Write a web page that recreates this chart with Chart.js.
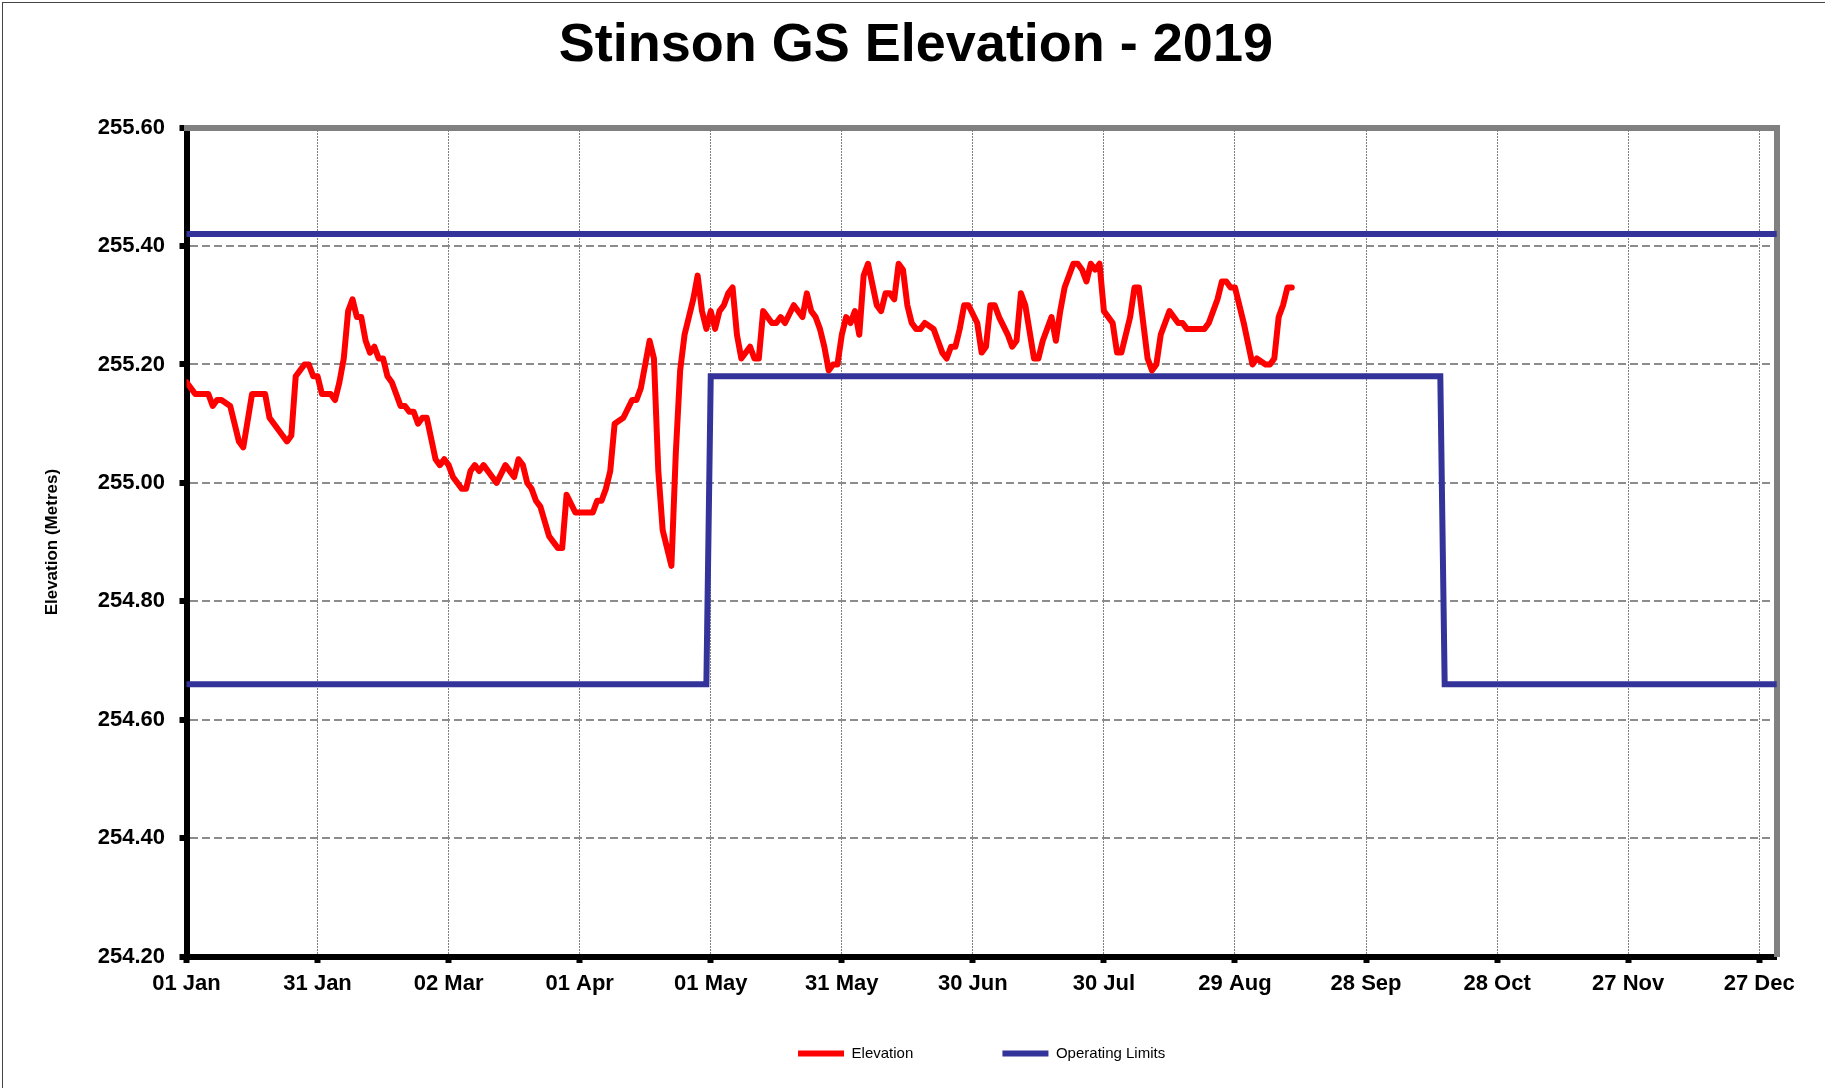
<!DOCTYPE html>
<html>
<head>
<meta charset="utf-8">
<title>Stinson GS Elevation - 2019</title>
<script src="https://cdn.jsdelivr.net/npm/chart.js@4.4.1/dist/chart.umd.min.js"></script>
<style>
  body { margin: 0; background: #fff; }
  #wrap { position: relative; width: 1825px; height: 1088px; overflow: hidden; }
  /* thin frame round the picture, like the exported image */
  #frame { position: absolute; left: 2px; top: 2px; width: 1840px; height: 1100px;
           border: 1px solid #444; pointer-events: none; }
</style>
</head>
<body>
<div id="wrap">
  <canvas id="chart" width="1825" height="1088"></canvas>
  <div id="frame"></div>
</div>
<script>
// Day of year (0 = 01 Jan 2019) and elevation in metres
const elevationDays = [
  0, 2, 5, 6, 7, 8, 10, 12, 13, 15, 18, 19, 23, 24, 25, 27, 28, 29, 30, 31,
  33, 34, 35, 36, 37, 38, 39, 40, 41, 42, 43, 44, 45, 46, 47, 49, 50, 51, 52, 53,
  54, 55, 57, 58, 59, 60, 61, 63, 64, 65, 66, 67, 68, 71, 73, 75, 76, 77, 78, 79,
  80, 81, 83, 84, 85, 86, 87, 89, 93, 94, 95, 96, 97, 98, 100, 102, 103, 104, 105, 106,
  107, 108, 109, 110, 111, 112, 113, 114, 115, 116, 117, 118, 119, 120, 121, 122, 123, 124, 125, 126,
  127, 129, 130, 131, 132, 134, 135, 136, 137, 139, 141, 142, 143, 144, 145, 146, 147, 148, 149, 150,
  151, 152, 153, 154, 155, 156, 158, 159, 160, 161, 162, 163, 164, 165, 166, 167, 168, 169, 171, 172,
  173, 174, 175, 176, 177, 178, 179, 181, 182, 183, 184, 185, 186, 188, 189, 190, 191, 192, 194, 195,
  196, 198, 199, 200, 201, 203, 204, 205, 206, 207, 208, 209, 210, 212, 213, 214, 216, 217, 218, 220,
  221, 222, 223, 225, 227, 228, 229, 233, 234, 236, 237, 238, 239, 240, 242, 244, 245, 247, 248, 249,
  250, 251, 252, 253
];
const elevationValues = [
  255.17, 255.15, 255.15, 255.13, 255.14, 255.14, 255.13, 255.07, 255.06, 255.15, 255.15, 255.11, 255.07, 255.08, 255.18, 255.20, 255.20, 255.18, 255.18, 255.15,
  255.15, 255.14, 255.17, 255.21, 255.29, 255.31, 255.28, 255.28, 255.24, 255.22, 255.23, 255.21, 255.21, 255.18, 255.17, 255.13, 255.13, 255.12, 255.12, 255.10,
  255.11, 255.11, 255.04, 255.03, 255.04, 255.03, 255.01, 254.99, 254.99, 255.02, 255.03, 255.02, 255.03, 255.00, 255.03, 255.01, 255.04, 255.03, 255.00, 254.99,
  254.97, 254.96, 254.91, 254.90, 254.89, 254.89, 254.98, 254.95, 254.95, 254.97, 254.97, 254.99, 255.02, 255.10, 255.11, 255.14, 255.14, 255.16, 255.20, 255.24,
  255.21, 255.02, 254.92, 254.89, 254.86, 255.05, 255.19, 255.25, 255.28, 255.31, 255.35, 255.29, 255.26, 255.29, 255.26, 255.29, 255.30, 255.32, 255.33, 255.25,
  255.21, 255.23, 255.21, 255.21, 255.29, 255.27, 255.27, 255.28, 255.27, 255.30, 255.28, 255.32, 255.29, 255.28, 255.26, 255.23, 255.19, 255.20, 255.20, 255.25,
  255.28, 255.27, 255.29, 255.25, 255.35, 255.37, 255.30, 255.29, 255.32, 255.32, 255.31, 255.37, 255.36, 255.30, 255.27, 255.26, 255.26, 255.27, 255.26, 255.24,
  255.22, 255.21, 255.23, 255.23, 255.26, 255.30, 255.30, 255.27, 255.22, 255.23, 255.30, 255.30, 255.28, 255.25, 255.23, 255.24, 255.32, 255.30, 255.21, 255.21,
  255.24, 255.28, 255.24, 255.29, 255.33, 255.37, 255.37, 255.36, 255.34, 255.37, 255.36, 255.37, 255.29, 255.27, 255.22, 255.22, 255.28, 255.33, 255.33, 255.21,
  255.19, 255.20, 255.25, 255.29, 255.27, 255.27, 255.26, 255.26, 255.27, 255.31, 255.34, 255.34, 255.33, 255.33, 255.27, 255.20, 255.21, 255.20, 255.20, 255.21,
  255.28, 255.30, 255.33, 255.33
];

// Operating limits: upper limit all year, lower limit raised from 01 May to 15 Oct
const upperLimitDays = [0, 364];
const upperLimitValues = [255.42, 255.42];
const lowerLimitDays = [0, 119, 120, 287, 288, 364];
const lowerLimitValues = [254.66, 254.66, 255.18, 255.18, 254.66, 254.66];

// Axis ticks
const xTickDays = [0, 30, 60, 90, 120, 150, 180, 210, 240, 270, 300, 330, 360];
const xTickLabels = ['01 Jan', '31 Jan', '02 Mar', '01 Apr', '01 May', '31 May', '30 Jun',
                     '30 Jul', '29 Aug', '28 Sep', '28 Oct', '27 Nov', '27 Dec'];
const yTickValues = [254.2, 254.4, 254.6, 254.8, 255.0, 255.2, 255.4, 255.6];

const toPoints = (xs, ys) => xs.map((x, i) => ({ x: x, y: ys[i] }));

Chart.defaults.font.family = "'Liberation Sans', Arial, sans-serif";
Chart.defaults.color = '#000';

const ctx = document.getElementById('chart').getContext('2d');
const chart = new Chart(ctx, {
  type: 'line',
  data: {
    datasets: [
      {
        label: 'Elevation',
        data: toPoints(elevationDays, elevationValues),
        borderColor: '#ff0000',
        backgroundColor: '#ff0000',
        borderWidth: 6,
        borderCapStyle: 'round',
        borderJoinStyle: 'round',
        pointRadius: 0,
        tension: 0
      },
      {
        label: 'Operating Limits',
        data: toPoints(upperLimitDays, upperLimitValues),
        borderColor: '#333399',
        backgroundColor: '#333399',
        borderWidth: 6,
        borderCapStyle: 'round',
        pointRadius: 0,
        tension: 0
      },
      {
        label: 'Operating Limits',
        data: toPoints(lowerLimitDays, lowerLimitValues),
        borderColor: '#333399',
        backgroundColor: '#333399',
        borderWidth: 6,
        borderCapStyle: 'round',
        pointRadius: 0,
        tension: 0
      }
    ]
  },
  options: {
    responsive: false,
    animation: false,
    events: [],
    layout: { padding: { left: 55, right: 48.3, top: 0, bottom: 17 } },
    plugins: {
      title: {
        display: true,
        text: 'Stinson GS Elevation - 2019',
        color: '#000',
        font: { size: 54, weight: 'bold' },
        padding: { top: 13.5, bottom: 49.2 }
      },
      legend: {
        position: 'bottom',
        fullSize: false,
        labels: {
          usePointStyle: true,
          pointStyle: 'line',
          pointStyleWidth: 46,
          padding: 89.2,
          color: '#000',
          font: { size: 15 },
          // the two limit lines share one legend entry
          filter: item => item.datasetIndex < 2
        }
      },
      tooltip: { enabled: false }
    },
    scales: {
      x: {
        type: 'linear',
        // pinned to the bottom of the value axis so the legend can sit right under the plot
        position: { y: 254.2 },
        min: 0,
        max: 364,
        afterBuildTicks: s => { s.ticks = xTickDays.map(v => ({ value: v })); },
        ticks: {
          autoSkip: false,
          maxRotation: 0,
          padding: 10.5,
          font: { size: 22, weight: 'bold' },
          callback: (v, i) => xTickLabels[i]
        },
        grid: { color: '#000', lineWidth: 1, tickColor: '#000', tickWidth: 6, tickLength: 3 },
        border: { color: '#000', width: 6, dash: [1, 2] }
      },
      y: {
        type: 'linear',
        position: 'left',
        min: 254.2,
        max: 255.6,
        afterBuildTicks: s => { s.ticks = yTickValues.map(v => ({ value: v })); },
        afterFit: s => { s.width = 131.5; },
        ticks: {
          padding: 14.5,
          font: { size: 22, weight: 'bold' },
          callback: v => v.toFixed(2)
        },
        grid: { color: '#8c8c8c', lineWidth: 2, tickColor: '#000', tickWidth: 6, tickLength: 7 },
        border: { color: '#000', width: 6, dash: [8, 4] },
        title: {
          display: true,
          text: 'Elevation (Metres)',
          font: { size: 17, weight: 'bold' },
          padding: { top: -12.7, bottom: 0 }
        }
      },
      // grey frame along the top and right of the plot
      xTop: {
        type: 'linear',
        position: 'top',
        afterFit: s => { s.height = 0; },
        ticks: { display: false },
        grid: { display: false },
        border: { color: '#808080', width: 6 }
      },
      yRight: {
        type: 'linear',
        position: 'right',
        afterFit: s => { s.width = 0; },
        ticks: { display: false },
        grid: { display: false },
        border: { color: '#808080', width: 6 }
      }
    }
  }
});
</script>
</body>
</html>
